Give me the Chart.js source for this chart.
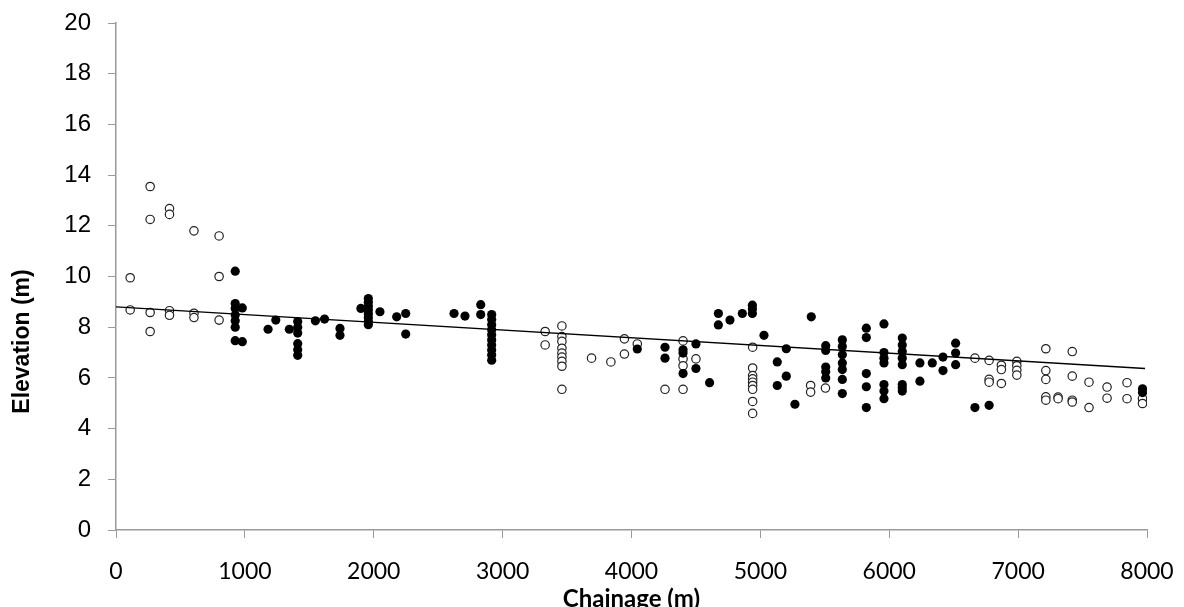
<!DOCTYPE html>
<html>
<head>
<meta charset="utf-8">
<script src="https://cdn.jsdelivr.net/npm/chart.js@4"></script>
<style>
  body { margin: 0; background: #fff; }
  #chartBox { width: 1184px; height: 607px; }
</style>
</head>
<body>
<div id="chartBox"><canvas id="myChart" width="1184" height="607"></canvas></div>
<script>
// open circles
const openChainage = [
  110, 110, 265, 265, 265, 265, 415, 415, 415, 415, 605, 605, 605, 800, 800, 800,
  3330, 3330, 3460, 3460, 3460, 3460, 3460, 3460, 3460, 3460, 3460,
  3690, 3840, 3945, 3945, 4045, 4260, 4400, 4400, 4400, 4400, 4500,
  4940, 4940, 4940, 4940, 4940, 4940, 4940, 4940, 4940,
  5390, 5390, 5505, 6665, 6775, 6775, 6775, 6870, 6870, 6870,
  6990, 6990, 6990, 6990, 7215, 7215, 7215, 7215, 7215, 7310, 7310,
  7420, 7420, 7420, 7420, 7550, 7550, 7690, 7690, 7845, 7845, 7965, 7965
];
const openElevation = [
  9.95, 8.68, 13.55, 12.25, 8.58, 7.83, 12.68, 12.45, 8.65, 8.47, 11.8, 8.55, 8.38, 11.6, 10.0, 8.28,
  7.83, 7.3, 8.05, 7.63, 7.44, 7.17, 6.98, 6.82, 6.65, 6.46, 5.55,
  6.78, 6.63, 7.54, 6.94, 7.34, 5.55, 7.46, 6.75, 6.48, 5.55, 6.75,
  7.21, 6.39, 6.09, 5.96, 5.83, 5.70, 5.55, 5.07, 4.60,
  5.70, 5.44, 5.6, 6.78, 6.69, 5.94, 5.83, 6.5, 6.33, 5.78,
  6.65, 6.48, 6.30, 6.11, 7.15, 6.29, 5.94, 5.25, 5.12, 5.24, 5.18,
  7.04, 6.07, 5.12, 5.05, 5.83, 4.83, 5.64, 5.2, 5.81, 5.18, 5.18, 4.99
];

// filled circles
const solidChainage = [
  925, 925, 925, 925, 925, 925, 925, 980, 980, 1180, 1240, 1345,
  1410, 1410, 1410, 1410, 1410, 1410, 1547, 1618, 1738, 1738, 1900,
  1958, 1958, 1958, 1958, 1958, 1958, 1958, 1958, 2048, 2178, 2248, 2248,
  2623, 2708, 2830, 2830,
  2915, 2915, 2915, 2915, 2915, 2915, 2915, 2915, 2915, 2915,
  4045, 4260, 4260, 4400, 4400, 4400, 4500, 4500, 4606, 4674, 4674, 4764, 4860,
  4938, 4938, 4938, 5028, 5131, 5131, 5201, 5201, 5268, 5395,
  5507, 5507, 5507, 5507, 5507,
  5636, 5636, 5636, 5636, 5636, 5636, 5636,
  5822, 5822, 5822, 5822, 5822,
  5959, 5959, 5959, 5959, 5959, 5959, 5959,
  6101, 6101, 6101, 6101, 6101, 6101, 6101, 6101,
  6238, 6238, 6334, 6417, 6417, 6515, 6515, 6515, 6665, 6775, 7965, 7965
];
const solidElevation = [
  10.21, 8.93, 8.74, 8.48, 8.25, 8.0, 7.47, 8.76, 7.43, 7.92, 8.28, 7.92,
  8.22, 8.0, 7.77, 7.35, 7.11, 6.89, 8.25, 8.32, 7.95, 7.68, 8.74,
  9.13, 8.98, 8.83, 8.68, 8.53, 8.38, 8.23, 8.1, 8.61, 8.41, 8.54, 7.73,
  8.54, 8.44, 8.89, 8.5,
  8.5, 8.3, 8.1, 7.9, 7.7, 7.5, 7.3, 7.1, 6.9, 6.7,
  7.14, 7.21, 6.78, 7.11, 6.98, 6.17, 7.34, 6.37, 5.81, 8.54, 8.09, 8.28, 8.54,
  8.87, 8.72, 8.54, 7.68, 6.63, 5.70, 7.15, 6.07, 4.96, 8.41,
  7.27, 7.08, 6.43, 6.24, 6.0,
  7.5, 7.24, 6.91, 6.59, 6.33, 5.94, 5.38,
  7.96, 7.59, 6.17, 5.65, 4.83,
  8.13, 7.0, 6.78, 6.59, 5.74, 5.48, 5.18,
  7.57, 7.3, 7.04, 6.78, 6.52, 5.74, 5.61, 5.48,
  6.59, 5.87, 6.59, 6.82, 6.29, 7.37, 6.98, 6.52, 4.83, 4.92, 5.57, 5.42
];

// linear trend line end points
const trendChainage = [0, 7985];
const trendElevation = [8.8, 6.37];

const toPoints = (xs, ys) => xs.map((x, i) => ({ x: x, y: ys[i] }));

const axisGrey = "#9a9a9a";

// the y title sits lower than the axis middle in the original, so draw it by hand
const yTitle = {
  id: "yTitle",
  afterDraw(chart) {
    const ctx = chart.ctx;
    const yScale = chart.scales.y;
    ctx.save();
    ctx.translate(23, (yScale.top + yScale.bottom) / 2 + 65);
    ctx.rotate(-Math.PI / 2);
    ctx.font = "bold 23px 'Liberation Sans', Arial, sans-serif";
    ctx.fillStyle = "#000";
    ctx.textAlign = "center";
    ctx.textBaseline = "middle";
    ctx.fillText("Elevation (m)", 0, 0);
    ctx.restore();
  }
};

new Chart(document.getElementById("myChart").getContext("2d"), {
  type: "scatter",
  data: {
    datasets: [
      {
        type: "line",
        data: toPoints(trendChainage, trendElevation),
        borderColor: "#000",
        borderWidth: 1.3,
        pointRadius: 0,
        fill: false
      },
      {
        data: toPoints(solidChainage, solidElevation),
        pointRadius: 4.6,
        pointBackgroundColor: "#000",
        pointBorderColor: "#000",
        pointBorderWidth: 0
      },
      {
        data: toPoints(openChainage, openElevation),
        pointRadius: 4.2,
        pointBackgroundColor: "#fff",
        pointBorderColor: "#222",
        pointBorderWidth: 1.2
      }
    ]
  },
  options: {
    responsive: false,
    animation: false,
    layout: { padding: { top: 23, right: 37, bottom: 0, left: 0 } },
    plugins: { legend: { display: false }, tooltip: { enabled: false } },
    scales: {
      x: {
        type: "linear",
        min: 0,
        max: 8000,
        afterFit: (scale) => {
          scale.height = 77;
          scale.paddingLeft = 0;
          scale.paddingRight = 0;
        },
        ticks: {
          stepSize: 1000,
          padding: 20,
          color: "#000",
          font: { family: "Lato", size: 23 },
          callback: (v) => String(v)
        },
        grid: { drawOnChartArea: false, color: axisGrey, tickLength: 8 },
        border: { color: axisGrey, width: 1.5 },
        title: {
          display: true,
          text: "Chainage (m)",
          color: "#000",
          font: { family: "Lato", size: 24, weight: "bold" },
          padding: { top: 0, bottom: -7 }
        }
      },
      y: {
        min: 0,
        max: 20,
        afterFit: (scale) => {
          scale.width = 116;
          scale.paddingTop = 0;
          scale.paddingBottom = 0;
        },
        ticks: {
          stepSize: 2,
          padding: 17,
          color: "#000",
          font: { family: "Liberation Sans", size: 24 }
        },
        grid: { drawOnChartArea: false, color: axisGrey, tickLength: 8 },
        border: { color: axisGrey, width: 1.5 }
      }
    }
  },
  plugins: [yTitle]
});
</script>
</body>
</html>
